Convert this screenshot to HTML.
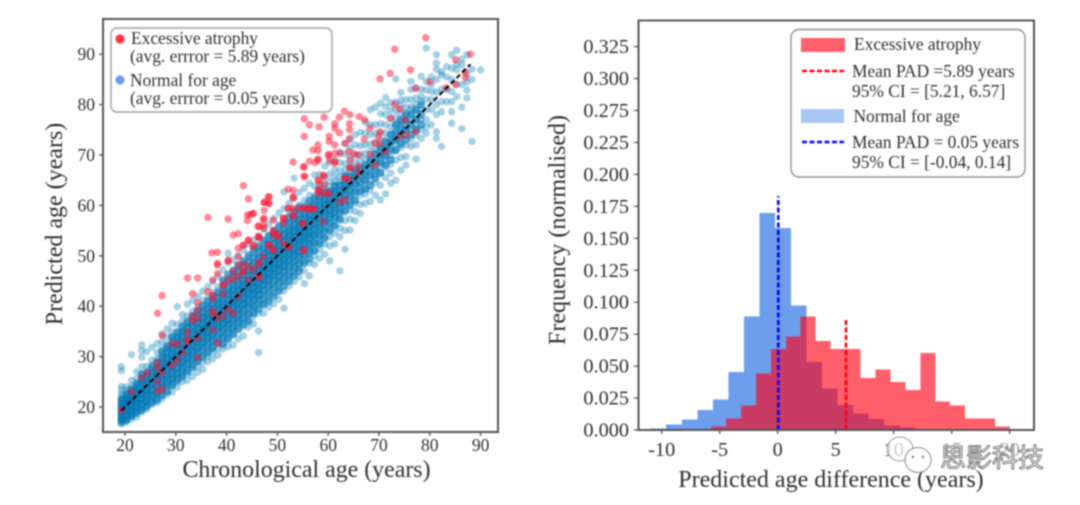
<!DOCTYPE html>
<html>
<head>
<meta charset="utf-8">
<title>Predicted age charts</title>
<style>
html,body{margin:0;padding:0;background:#fff;width:1080px;height:505px;overflow:hidden}
svg{display:block;filter:blur(0.7px)}
text{font-family:"Liberation Serif","Noto Serif CJK SC",serif;fill:#2e2e2e}
</style>
</head>
<body>
<svg id="chart" xmlns="http://www.w3.org/2000/svg" width="1080" height="505" viewBox="0 0 1080 505">
  <rect x="0" y="0" width="1080" height="505" fill="#fff"/>
  <g id="left-marks"></g>
  <g id="left-axes"></g>
  <text x="306.5" y="477" font-size="23.9" text-anchor="middle">Chronological age (years)</text>
  <text transform="translate(62,224) rotate(-90)" font-size="24" text-anchor="middle">Predicted age (years)</text>

  <g>
    <rect x="111" y="28" width="221" height="84" rx="6" fill="#fff" stroke="#a0a0a0" stroke-width="1.4"/>
    <circle cx="120" cy="39" r="4.6" fill="#ff3547"/>
    <text x="131" y="44" font-size="17.4">Excessive atrophy</text>
    <text x="130" y="62" font-size="17.4">(avg. errror = 5.89 years)</text>
    <circle cx="120" cy="80" r="4.6" fill="#6d9eeb"/>
    <text x="130" y="86" font-size="17.4">Normal for age</text>
    <text x="130" y="104" font-size="17.4">(avg. errror = 0.05 years)</text>
  </g>

  <g id="right-marks"></g>
  <g id="right-axes"></g>
  <text x="831" y="487" font-size="24" text-anchor="middle">Predicted age difference (years)</text>
  <text transform="translate(565,230) rotate(-90)" font-size="24" text-anchor="middle">Frequency (normalised)</text>

  <g>
    <rect x="791" y="29.5" width="234" height="147.5" rx="8" fill="#fff" stroke="#909090" stroke-width="1.4"/>
    <rect x="801" y="38" width="44" height="14" fill="#ff5f6b"/>
    <text x="854" y="50" font-size="17.4">Excessive atrophy</text>
    <line x1="802" y1="71" x2="844" y2="71" stroke="#f00" stroke-width="2.4" stroke-dasharray="5 2.5"/>
    <text x="852" y="77" font-size="17.4">Mean PAD =5.89 years</text>
    <text x="852" y="97" font-size="17.4">95% CI = [5.21, 6.57]</text>
    <rect x="801" y="109" width="43" height="14" fill="#a9c5f3"/>
    <text x="853.5" y="122" font-size="17.4">Normal for age</text>
    <line x1="802" y1="142" x2="844" y2="142" stroke="#00f" stroke-width="2.4" stroke-dasharray="5 2.5"/>
    <text x="852" y="148" font-size="17.4">Mean PAD = 0.05 years</text>
    <text x="852" y="168" font-size="17.4">95% CI = [-0.04, 0.14]</text>
  </g>

  <g id="watermark-layer"></g>
</svg>

<script>
// ---------- Scatter data ----------
const scatterAgeTicks = [20,30,40,50,60,70,80,90];
const scatterPredTicks = [20,30,40,50,60,70,80,90];
const identityLine = [19.3,88];

const normalAges = [19.3,20.3,21.3,22.3,23.3,24.3,25.3,26.3,27.3,28.3,29.3,30.3,31.3,32.3,33.3,34.3,35.3,36.3,37.3,38.3,39.3,40.3,41.3,42.3,43.3,44.3,45.3,46.3,47.3,48.3,49.3,50.3,51.3,52.3,53.3,54.3,55.3,56.3,57.3,58.3,59.3,60.3,61.3,62.3,63.3,64.3,65.3,66.3,67.3,68.3,69.3,70.3,71.3,72.3,73.3,74.3,75.3,76.3,77.3,78.3,79.3,80.3,81.3,82.3,83.3,84.3,85.3,86.3,87.3,88.3,90];

const normalPreds = [
[16.6,17.1,17.5,17.9,18.3,18.6,19,19.3,19.7,20,20.4,20.8,21.2,21.7,22.1,22.6,23.4,24.1,27.2,28],
[17,17.5,17.9,18.2,18.7,19.1,19.5,19.8,20.2,20.6,21,21.3,21.8,22.2,22.7,23.3,24],
[17.6,18.1,18.5,19,19.4,19.9,20.3,20.7,21.1,21.5,21.9,22.4,22.9,23.4,24.2,25.3,30.4],
[18,18.7,19.2,19.7,20.2,20.6,21.1,21.6,22,22.5,23,23.5,24.1,24.8,25.6,27],
[19,19.6,20.2,20.8,21.3,21.9,22.4,22.9,23.4,23.9,24.5,25.1,25.8,26.7,28,29.9,31.2,32.3],
[19.6,20.3,20.9,21.5,22.1,22.7,23.2,23.8,24.3,24.9,25.5,26.2,27.1,28.1,31],
[20.5,21.3,22,22.6,23.2,23.8,24.4,25,25.6,26.2,26.8,27.5,28.3,29.3,31.9],
[20.9,21.8,22.5,23.2,23.8,24.4,25,25.6,26.2,26.8,27.4,28,28.7,29.6,30.8,32.6],
[21.6,22.8,23.5,24.2,24.8,25.4,26,26.6,27.2,27.8,28.4,29,29.7,30.5,31.6,33,34.5],
[22.5,23.7,24.5,25.2,25.8,26.4,27,27.6,28.2,28.8,29.4,30,30.7,31.5,32.4,33.9,35.5],
[23,24.2,25,25.8,26.5,27.1,27.8,28.4,29,29.6,30.2,30.8,31.4,32.1,32.9,33.8,35,36.6],
[24,25,25.9,26.7,27.4,28.1,28.7,29.3,29.9,30.5,31.1,31.7,32.4,33.1,33.9,34.9,36.4,39.9],
[25,25.8,26.6,27.4,28.2,28.9,29.5,30.1,30.7,31.3,31.9,32.5,33.2,33.9,34.7,35.6,37,38.3],
[25.3,26.6,27.5,28.4,29.2,29.9,30.5,31.1,31.7,32.3,32.9,33.5,34.2,34.9,35.7,36.7,38.1,40.4],
[26.1,27.6,28.5,29.4,30.1,30.8,31.4,32,32.6,33.2,33.8,34.4,35.1,35.8,36.6,37.6,39,41.2],
[26.9,28.2,29.4,30.3,31.1,31.8,32.4,33,33.6,34.2,34.8,35.4,36,36.7,37.5,38.5,40,42],
[27.5,28.9,30.2,31.2,32,32.7,33.3,33.9,34.5,35.1,35.7,36.3,37,37.7,38.5,39.6,41.1,43],
[29,30.1,31.2,32.1,32.9,33.6,34.2,34.8,35.4,36,36.6,37.2,37.9,38.6,39.4,40.4,41.8,43.9],
[29.6,31,32.1,33,33.8,34.5,35.1,35.7,36.3,36.9,37.5,38.1,38.8,39.5,40.3,41.3,42.8,44.9],
[30.3,31.6,33,33.9,34.7,35.4,36,36.6,37.2,37.8,38.4,39,39.7,40.4,41.2,42.3,43.8,46],
[31.5,32.7,33.8,34.8,35.6,36.3,36.9,37.5,38.1,38.7,39.3,39.9,40.6,41.3,42.1,43.2,44.8,47.2],
[32,33.4,34.7,35.7,36.5,37.2,37.8,38.4,39,39.6,40.2,40.8,41.5,42.2,43,44.1,45.7,48.6,50.5],
[32.3,34.3,35.6,36.6,37.4,38.1,38.7,39.3,39.9,40.5,41.1,41.7,42.4,43.1,43.9,45,46.6,49.2],
[33.5,35.2,36.5,37.5,38.4,39.1,39.7,40.3,40.9,41.5,42.1,42.7,43.4,44.1,44.9,46,47.6,50.1],
[34.1,36,37.4,38.5,39.4,40.1,40.7,41.3,41.9,42.5,43.1,43.7,44.4,45.1,45.9,47,48.6,51.2],
[35.9,37.2,38.5,39.6,40.4,41.1,41.7,42.3,42.9,43.5,44.1,44.7,45.4,46.1,46.9,48,49.7,52.3],
[36.5,38,39.4,40.5,41.3,42,42.6,43.2,43.8,44.4,45,45.6,46.3,47,47.8,48.9,50.6,53.1],
[30.8,35.1,38.6,40.2,41.4,42.3,43.1,43.7,44.3,44.9,45.5,46.1,46.7,47.4,48.1,48.9,50,51.6,54],
[38.6,40.6,42.1,43.2,44,44.7,45.3,45.9,46.5,47.1,47.7,48.3,49,49.7,50.5,51.6,53.2,55.2],
[39.8,41.5,43,44.1,45,45.7,46.3,46.9,47.5,48.1,48.7,49.3,50,50.7,51.5,52.6,54.1,56.3],
[40.5,42.5,44,45.1,46,46.7,47.3,47.9,48.5,49.1,49.7,50.3,51,51.7,52.5,53.6,55.1,57.4],
[41.4,43.3,44.9,46,46.9,47.6,48.2,48.8,49.4,50,50.6,51.2,51.9,52.6,53.4,54.5,56.2,58.5],
[39.6,43,44.8,46.1,47.1,47.9,48.6,49.2,49.8,50.4,51,51.6,52.2,52.9,53.6,54.4,55.5,57.2,59.4,62.7],
[44,45.7,47,48.1,49,49.7,50.3,50.9,51.5,52.1,52.7,53.3,54,54.7,55.5,56.6,58.1,60.4],
[44.9,46.6,47.9,49,49.9,50.6,51.2,51.8,52.4,53,53.6,54.2,54.9,55.6,56.4,57.5,59.2,61.6,65.4],
[45.8,47.5,48.8,49.9,50.8,51.5,52.1,52.7,53.3,53.9,54.5,55.1,55.8,56.5,57.3,58.4,60.1,62.6],
[44.5,47,49,50.4,51.5,52.3,53,53.6,54.2,54.8,55.4,56,56.7,57.4,58.2,59.3,61,63.4],
[46,48.6,50.3,51.6,52.5,53.3,54,54.6,55.2,55.8,56.4,57,57.7,58.4,59.2,60.3,62,64.4],
[48.3,50,51.4,52.5,53.4,54.1,54.8,55.5,56.2,56.9,57.6,58.3,59,59.8,60.7,62,63.8,66],
[49.5,51.2,52.6,53.8,54.8,55.7,56.5,57.3,58,58.7,59.4,60.1,60.9,61.8,62.8,64.1,66.2],
[50.3,52.3,53.7,54.9,56,57,57.8,58.6,59.3,60,60.7,61.5,62.3,63.2,64.3,65.7,67.8],
[49,52,53.8,55.2,56.4,57.5,58.3,59.1,59.8,60.5,61.2,62,62.8,63.7,64.8,66.3,68.5],
[52.4,54.5,56,57.3,58.4,59.4,60.2,61,61.7,62.4,63.1,63.9,64.8,65.8,67.1,69],
[47,53.8,55.5,57.1,58.4,59.5,60.5,61.4,62.2,63,63.8,64.7,65.7,66.9,68.5,70.6],
[51.3,55,57,58.6,60,61.2,62.2,63.1,64,64.9,65.9,67,68.3,70.2,72.3],
[55.1,57.3,59.1,60.6,62,63.1,64.1,65,65.9,66.9,68,69.5,71.4,73],
[57,58.8,60.5,62,63.3,64.4,65.4,66.4,67.4,68.5,70,72,74],
[58.4,60.2,62,63.4,64.6,65.7,66.7,67.7,68.8,70.1,71.8,74.5],
[60.4,62.2,63.6,64.9,66,67,68,69.1,70.3,72,74.3,76.5],
[60.8,63,64.8,66.2,67.4,68.5,69.6,70.8,72.2,74,76,79],
[62,64.5,66,67.5,68.8,70,71.2,72.6,74.3,76,79.5],
[61.1,64,66.3,68,69.4,70.6,71.8,73,74.4,76.2,78.2,80.3],
[62.3,65.5,67.5,69,70.4,71.7,73,74.4,76,78,79.6,81.4],
[64.4,66.4,68.2,70,71.6,73,74.2,75.6,77.2,78.8,80.4],
[65,69,70.8,72.3,73.6,75,76.3,77.6,79,80.5,85.1],
[67,69.5,71.5,73,74.4,75.8,77,78.4,79.8,80.9,82.4],
[68,69.7,72,73.8,75.2,76.5,77.8,79.5,81],
[71.7,73.2,75,76.4,77.7,79,79.5,81,83,84.6],
[69.2,72,74,75.5,77,78.5,80,81.3,83.4],
[73.3,75,77,79,80.6,81.6,83,85.6],
[74.3,75.6,77,79,81,82.9,84.6,91.2],
[76,79,81,82.6,84,85.5],
[73.3,74.6,78,80,82.5,85,87,88.2,89.9],
[71.7,78.6,80.6,83,85.9,86.5],
[80.6,83,85.5,87.5],
[76.3,78.6,80.6,82.6,85,87.2,89.9],
[81.6,84,86.9,88,90.8],
[75.2,79.5,84,87.9,89],
[81.3,82.9,84.5,86,89.9],
[72.7,85,87],
[86.9]
];

// Second pass of points inside the densely overlapping core, same age columns as normalAges.
const normalCorePreds = [
[17,17.7,18.4,19.1,19.8,20.5,21.4],
[17.4,18.4,19.3,20.1,20.9,21.6,22.5],
[18.3,19.2,20.1,20.9,21.7,22.6,23.5],
[18.9,19.9,20.9,21.8,22.7,23.6,24.5],
[19.4,20.5,21.5,22.6,23.6,24.6,25.5,26.4],
[20.1,21.2,22.4,23.5,24.6,25.7,26.7],
[20.9,22.2,23.4,24.6,25.7,26.8,27.9],
[21.4,22.7,24.1,25.3,26.5,27.7,28.9],
[22.3,23.8,25.1,26.3,27.5,28.7,29.9,31],
[23.1,24.6,26.1,27.4,28.5,29.7,30.9,32],
[24.4,25.6,26.9,28.1,29.3,30.5,31.7,32.8,33.9],
[25.4,26.6,27.8,29,30.2,31.4,32.6,33.7,34.8],
[26.3,27.7,28.9,30.2,31.4,32.6,33.8,35,36],
[27.1,28.5,29.8,31,32.2,33.4,34.6,35.8,37],
[28,29.5,30.9,32.2,33.4,34.6,35.8,37,38.1],
[29,30.5,31.8,33.2,34.4,35.6,36.8,38,39.1],
[29.9,31.5,32.8,34.1,35.3,36.5,37.7,38.9,40.1],
[30.8,32.4,33.8,35,36.2,37.4,38.6,39.8,41],
[31.7,33.2,34.6,35.9,37.1,38.3,39.5,40.7,41.9],
[32.7,34.1,35.6,36.9,38,39.2,40.5,41.6,42.8],
[32.5,33.9,35.2,36.6,37.8,39,40.2,41.4,42.6,43.9,45.2],
[33.6,34.9,36.2,37.5,38.8,40,41.2,42.4,43.6,44.9,46.3],
[34.5,35.8,37.2,38.5,39.7,40.9,42.1,43.3,44.5,45.8,47.1],
[35.6,36.9,38.1,39.4,40.6,41.8,43.1,44.3,45.5,46.8,48.1],
[36.4,37.7,39.1,40.4,41.6,42.8,44,45.2,46.4,47.7,49],
[37,38.4,39.9,41.2,42.6,43.8,45,46.2,47.4,48.7,50.1],
[38.6,39.9,41.2,42.4,43.6,44.8,46,47.2,48.4,49.7,51.2],
[39.4,40.8,42.2,43.4,44.6,45.8,47,48.2,49.4,50.7,52],
[40.3,41.6,43,44.3,45.5,46.7,47.9,49.1,50.3,51.5,52.9],
[41,42.6,44,45.3,46.5,47.7,48.9,50.1,51.3,52.5,53.9],
[42,43.6,45,46.3,47.5,48.7,49.9,51.1,52.3,53.5,54.8],
[43,44.5,45.9,47.2,48.4,49.6,50.8,52,53.2,54.5,55.8],
[44,45.5,46.8,48.1,49.3,50.5,51.7,52.9,54.1,55.3,56.6],
[45,46.4,47.8,49.1,50.3,51.5,52.7,53.9,55.1,56.4,57.7],
[46,47.4,48.8,50.1,51.3,52.5,53.7,54.9,56.1,57.4,58.7],
[47,48.4,49.8,51,52.2,53.4,54.6,55.8,57,58.3,59.6],
[48.5,50,51.2,52.4,53.6,54.8,56,57.2,58.4,59.7],
[49.4,50.9,52.2,53.4,54.6,55.8,57,58.2,59.5,60.9],
[51,52.6,54,55.2,56.4,57.6,58.8,60.1,61.4],
[52.4,54,55.3,56.5,57.7,58.9,60.1,61.4,62.8],
[53.5,55.1,56.5,57.7,58.9,60.1,61.3,62.6],
[55,56.5,57.8,59,60.2,61.4,62.7],
[56,57.6,58.9,60.1,61.3,62.6,63.9],
[57.3,58.8,60.2,61.5,62.7,64],
[59,60.5,62,63.3,64.5,65.8],
[60,61.6,63,64.4,65.7],
[61,62.7,64.2,65.6,66.9],
[62.8,64.4,65.9,67.2],
[63.2,65,66.5,68],
[64,66,67.6,69],
[65.4,67,68.6,70.2],
[66.5,68.5,70,71.4],
[68,69.8,71.2,72.6],
[69,71,72.5,74],
[71,73,74.5,76],
[72.2,74,75.5,77],
[73,75,76.8,78.2],
[74,76,78],
[75,77,79],
[76,78,80]
];

const atrophyAge = [
19.3,21.3,23.3,24.4,26.4,26.4,27.3,26.4,26.4,27.3,
29.3,30.3,29.3,30.3,31.3,32.3,32.3,32.3,27.3,26.4,
27.3,32.3,34.3,33.3,34.3,34.3,33.3,33.3,34.3,34.3,
34.3,36.3,37.3,37.3,37.3,37.3,37.3,38.2,37.3,38.2,
38.2,38.2,37.1,38.2,39.3,39.3,40.3,40.3,39.3,41.3,
42.3,41.3,42.3,42.3,41.3,42.3,43.3,42.3,43.3,44.3,
44.3,45.3,45.3,46.4,46.4,46.4,47.2,48.2,49.2,51.2,
52.1,55.2,49.2,50.2,
79.2,73.1,88,85.1,76.2,72.2,70.2,87,87,80,
77.2,85.1,83.2,63.2,64.3,59.2,62.2,55.3,56.3,58.2,
61.3,61.3,64.2,64.2,66.1,67.2,62.2,55.3,60.2,60.2,
64.2,63.3,61.3,58,57,58,73.1,74.1,72.3,75.1,
68.2,70.2,69.9,69.2,70.2,77.2,75.4,74.1,71.2,67.1,
68.3,65.9,65,64,62.3,61.3,60.2,60.2,61.3,58,
53.1,56.3,55.3,57.4,64.3,65.9,69.2,55.3,59.2,58.2,
59.2,58.2,63.3,64.2,52.1,53.1,53.1,58,60,52.1,
53.1,55.1,56.3,57.1,48.2,47.4,48.2,45.3,44.6,47.2,
49.2,51.2,53.1,59,54.8,51.2,47.2,46.2,49.5,46.2,
36.3,40.3,43.3,44.3,44.1,45.1,44.1,47.4,48.4,48.4,
47.4,47.4,46.3,47.4,44.3,46.4,49.2,50.2,43.3,45.3,
48.4,49.2,52.2,40.3,43.3,46.3,44.3,38.2,41.3,43.3,
40.3,42.3,46.3,39.4,55.1,55.3,58,53.1,58,59,
58,59,60,52.2,54.1,55.3,56.3,57.2,53.1,51.2,
55.1,55.1,61.3,64.3,62.3,63.3,63.3,60,64.3,66
];
const atrophyPred = [
19.4,23,25.8,26.8,28.8,27.8,26.8,25,23.2,23.5,
28.3,29.3,32.5,32.5,30.8,33,33.4,34.9,34.2,38.6,
42.1,45.6,45.6,42.5,40.7,39.2,38,37.1,37.6,33.6,
29.8,42.9,45.2,42.2,41.5,39,38.6,37.6,35.3,32.7,
46.5,48.5,50.6,50.7,44.2,42.4,49.1,39.4,38.2,38.6,
41.9,45.3,51.5,49.8,54.1,54.4,46.8,48.2,52.1,53.1,
45.2,52.1,47.2,53.6,48.5,45.8,49.8,52.1,51.1,52.5,
51.8,51,54.4,53.8,
93.3,91,90,88.9,86.9,86.2,85.1,86.5,85.4,84.5,
83.2,84,83.3,78.7,78,77.5,77.5,77.2,76,75.6,
76.2,75.3,76.2,75,77.6,77,74.4,73.7,73.7,72.7,
73.3,72.3,72,72,71,70.9,80,79.1,77.3,77,
75.3,74.6,73.7,72.3,72.3,74.6,74,73.7,70.7,73.1,
70.1,70,70.3,70.7,70.3,70.3,70.1,69,68.4,69.2,
68.6,68.8,67.7,68.5,67.5,67.7,68,65.7,65.8,64.9,
64,63.4,65.4,65.2,63.2,63,61.7,62.3,62.3,59.4,
59.4,59.4,59.4,59.2,61.7,60.6,60.4,58.4,58.1,57.3,
57.1,57.5,57.8,56.8,56.5,56.5,56.1,55.8,54.1,53.8,
57.6,57.3,63.9,61.3,58.1,58.4,57,60.6,61.7,60.4,
59,57.4,55.9,55.5,53.1,53.7,55.1,54.1,52.1,51.8,
52.2,51.2,51.8,49,48.2,48.5,47.9,48.2,46.9,46.9,
45.3,45.9,45.9,44.2,67.6,65.8,69,61.4,65,66,
63,62.4,62.4,59.4,59.4,59.4,59.2,59.4,58,57.4,
56.4,51.2,68.7,67.4,60.7,61.1,65.4,70,69,66.4
];

// ---------- Histogram data ----------
const histXTicks = [-10,-5,0,5,10,15,20];
const histYTickLabels = ['0.000','0.025','0.050','0.075','0.100','0.125','0.150','0.175','0.200','0.225','0.275','0.300','0.325'];
const normalBinStart = -10.95;
const normalBinWidth = 1.342;
const normalFreq = [0.001,0.0044,0.0084,0.0157,0.024,0.0452,0.0887,0.1697,0.158,0.0976,0.0532,0.0326,0.0196,0.0128,0.0086,0.0037,0.0021];
const atrophyBinStart = -5.75;
const atrophyBinWidth = 1.289;
const atrophyFreq = [0.0026,0.0091,0.0191,0.0444,0.0632,0.0731,0.0887,0.0697,0.0632,0.0632,0.0405,0.0472,0.0376,0.0313,0.0603,0.0224,0.0193,0.0091,0.0091,0.0029];
const meanNormal = 0.05;
const meanAtrophy = 5.89;
const meanNormalHeight = 0.183;
const meanAtrophyHeight = 0.086;

// ---------- Axis functions ----------
const NS = 'http://www.w3.org/2000/svg';
function scatterX(age){ return 125 + (age - 20) * 5.08; }
function scatterY(pred){ return 407 - (pred - 20) * 5.04; }
function histX(v){ return 777.7 + v * 11.6; }
function histY(f){ return 430 - f / 0.025 * 31.95; }
function histTickY(i){ return 430 - i * 31.95; }

function make(tag, parent, attrs){
  const el = document.createElementNS(NS, tag);
  for (const k in attrs) el.setAttribute(k, attrs[k]);
  parent.appendChild(el);
  return el;
}

const leftMarks = document.getElementById('left-marks');
const leftAxes = document.getElementById('left-axes');
const rightMarks = document.getElementById('right-marks');
const rightAxes = document.getElementById('right-axes');

// ---------- Scatter marks ----------
normalAges.forEach(function(age, i){
  normalPreds[i].forEach(function(pred){
    const dot = make('circle', leftMarks, {cx: scatterX(age), cy: scatterY(pred), r: 3.7, fill: '#0077b4', 'fill-opacity': 0.35});
    
    
  });
});
normalCorePreds.forEach(function(preds, i){
  preds.forEach(function(pred){
    const dot = make('circle', leftMarks, {cx: scatterX(normalAges[i]), cy: scatterY(pred), r: 4, fill: '#0077b4', 'fill-opacity': 0.62});
    
    
  });
});
atrophyAge.forEach(function(age, i){
  const dot = make('circle', leftMarks, {cx: scatterX(age), cy: scatterY(atrophyPred[i]), r: 3.7, fill: '#ff1430', 'fill-opacity': 0.5});
  
  
});
const diag = make('line', leftMarks, {x1: scatterX(identityLine[0]), y1: scatterY(identityLine[0]), x2: scatterX(identityLine[1]), y2: scatterY(identityLine[1]), stroke: '#000', 'stroke-width': 2, 'stroke-dasharray': '5 3'});



// ---------- Scatter axes ----------
const leftFrame = make('rect', leftAxes, {x: 103, y: 19, width: 395, height: 413, fill: 'none', stroke: '#555', 'stroke-width': 2});


scatterAgeTicks.forEach(function(t){
  const x = scatterX(t);
  const tick = make('line', leftAxes, {x1: x, y1: 432, x2: x, y2: 436, stroke: '#555', 'stroke-width': 1.3});
  
  
  const lab = make('text', leftAxes, {x: x, y: 451, 'font-size': 17.5, 'text-anchor': 'middle'});
  lab.textContent = t;
  
  
});
scatterPredTicks.forEach(function(t){
  const y = scatterY(t);
  const tick = make('line', leftAxes, {x1: 99, y1: y, x2: 103, y2: y, stroke: '#555', 'stroke-width': 1.3});
  
  
  const lab = make('text', leftAxes, {x: 95, y: y + 6, 'font-size': 17.5, 'text-anchor': 'end'});
  lab.textContent = t;
  
  
});

// ---------- Histogram bars ----------
normalFreq.forEach(function(f, i){
  const x0 = histX(normalBinStart + i * normalBinWidth);
  const x1 = histX(normalBinStart + (i + 1) * normalBinWidth);
  const bar = make('rect', rightMarks, {x: x0, y: histY(f), width: x1 - x0, height: 430 - histY(f), fill: '#6d9eeb', 'shape-rendering': 'crispEdges'});
  
  
});
atrophyFreq.forEach(function(f, i){
  const x0 = histX(atrophyBinStart + i * atrophyBinWidth);
  const x1 = histX(atrophyBinStart + (i + 1) * atrophyBinWidth);
  const bar = make('rect', rightMarks, {x: x0, y: histY(f), width: x1 - x0, height: 430 - histY(f), fill: '#ff0014', 'fill-opacity': 0.63, 'shape-rendering': 'crispEdges'});
  
  
});
const meanLineNormal = make('line', rightMarks, {x1: histX(meanNormal), y1: 430, x2: histX(meanNormal), y2: histY(meanNormalHeight), stroke: '#00f', 'stroke-width': 2.6, 'stroke-dasharray': '5 2.5'});


const meanLineAtrophy = make('line', rightMarks, {x1: histX(meanAtrophy), y1: 430, x2: histX(meanAtrophy), y2: histY(meanAtrophyHeight), stroke: '#f00', 'stroke-width': 2.6, 'stroke-dasharray': '5 2.5'});



// ---------- Histogram axes ----------
const rightFrame = make('rect', rightAxes, {x: 638.5, y: 20.5, width: 395.5, height: 409.5, fill: 'none', stroke: '#555', 'stroke-width': 2});


histXTicks.forEach(function(t){
  const x = histX(t);
  const tick = make('line', rightAxes, {x1: x, y1: 430, x2: x, y2: 434, stroke: '#555', 'stroke-width': 1.3});
  
  
  const lab = make('text', rightAxes, {x: x, y: 456, 'font-size': 20.3, 'text-anchor': 'middle'});
  lab.textContent = t;
  
  
});
histYTickLabels.forEach(function(t, i){
  const y = histTickY(i);
  const tick = make('line', rightAxes, {x1: 634, y1: y, x2: 638, y2: y, stroke: '#555', 'stroke-width': 1.3});
  
  
  const lab = make('text', rightAxes, {x: 629, y: y + 6.5, 'font-size': 20.3, 'text-anchor': 'end'});
  lab.textContent = t;
  
  
});

// ---------- Watermark (drawn last so it overlaps the tick labels) ----------
const wm = document.getElementById('watermark-layer');
const wmBack = make('rect', wm, {x: 938, y: 443, width: 108, height: 27, fill: '#fff', 'fill-opacity': 0.6});


const wmBubbleA = make('ellipse', wm, {cx: 900, cy: 449, rx: 13, ry: 12, fill: '#fff', 'fill-opacity': 0.75, stroke: '#999', 'stroke-width': 1});


const wmBubbleB = make('ellipse', wm, {cx: 918, cy: 460, rx: 13, ry: 12.5, fill: '#fff', 'fill-opacity': 0.9, stroke: '#888', 'stroke-width': 1});


const wmEyeA = make('circle', wm, {cx: 913, cy: 457, r: 1.2, fill: '#777'});


const wmEyeB = make('circle', wm, {cx: 923, cy: 457, r: 1.2, fill: '#777'});


const wmText = make('text', wm, {x: 940, y: 467, 'font-size': 26, style: "font-family:'Noto Sans CJK SC',sans-serif;fill:#fff;fill-opacity:.75;stroke:#555;stroke-width:.8"});
wmText.textContent = '思影科技';


</script>
</body>
</html>
